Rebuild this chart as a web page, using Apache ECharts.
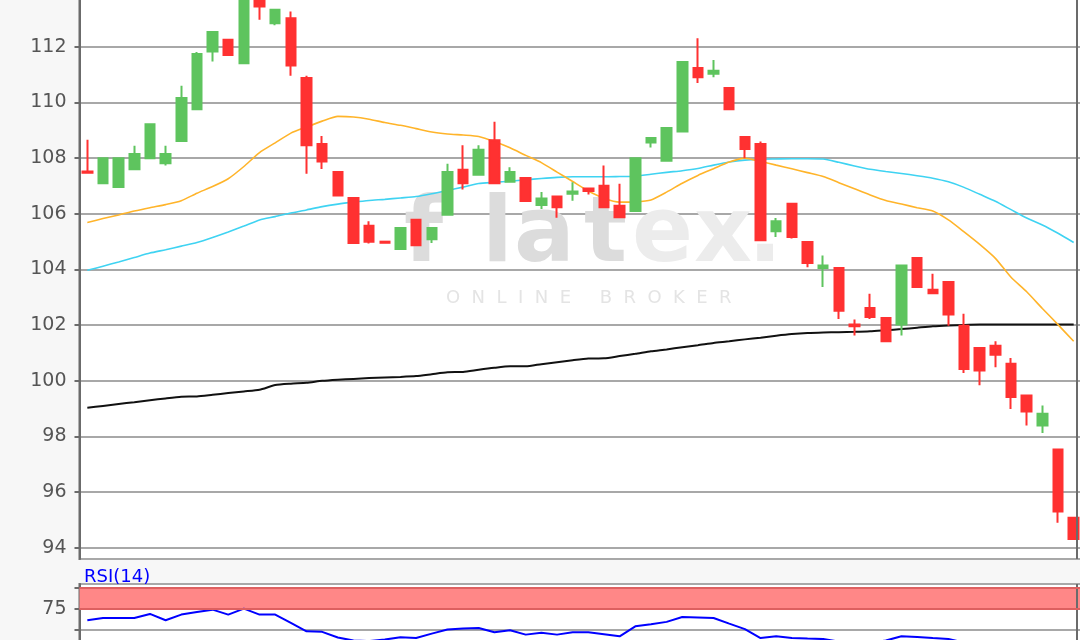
<!DOCTYPE html>
<html>
<head>
<meta charset="utf-8">
<script src="https://cdn.jsdelivr.net/npm/echarts@6/dist/echarts.min.js"></script>
<style>
html,body{margin:0;padding:0;background:#f7f7f7;}
#c{width:1080px;height:640px;}
</style>
</head>
<body>
<div id="c"></div>
<script>
const categories = [1,2,3,4,5,6,7,8,9,10,11,12,13,14,15,16,17,18,19,20,21,22,23,24,25,26,27,28,29,30,31,32,33,34,35,36,37,38,39,40,41,42,43,44,45,46,47,48,49,50,51,52,53,54,55,56,57,58,59,60,61,62,63,64];

const openP = [107.52,107.1,106.96,107.6,108.0,107.82,108.62,109.76,111.83,112.25,111.41,113.95,112.85,113.03,110.88,108.51,107.5,106.57,105.57,105.0,104.74,105.79,105.09,105.97,107.58,107.4,108.64,107.15,107.29,106.32,106.62,106.72,106.91,107.01,106.29,106.1,108.56,107.91,108.96,111.24,111.03,110.52,108.76,108.51,105.37,106.36,104.99,104.05,104.05,102.02,102.62,102.26,102.02,104.41,103.27,103.55,101.98,101.18,101.26,100.61,99.47,98.4,97.53,95.08];
const closeP = [107.48,108.0,108.0,108.15,109.22,108.15,110.16,111.74,112.53,111.71,114.1,113.45,113.33,111.33,108.46,107.88,106.66,104.95,105.0,104.96,105.49,104.87,105.49,107.5,107.1,108.3,107.1,107.5,106.46,106.55,106.24,106.8,106.82,106.24,105.88,108.0,108.72,109.08,111.45,110.91,111.14,109.76,108.33,105.05,105.73,105.17,104.23,104.14,102.52,101.96,102.29,101.42,104.14,103.37,103.15,102.38,100.43,100.37,100.94,99.42,98.9,98.82,95.31,94.32];
const lowP = [107.48,107.1,106.96,107.6,108.0,107.74,108.62,109.76,111.47,111.71,111.41,112.97,112.77,110.96,107.44,107.61,106.66,104.95,104.93,104.96,104.74,104.87,104.95,105.97,106.87,107.4,107.1,107.15,106.46,106.17,105.86,106.47,106.69,106.24,105.88,106.1,108.38,107.91,108.96,110.7,110.91,109.76,108.0,105.05,105.17,105.11,104.08,103.37,102.22,101.63,102.22,101.42,101.63,103.37,103.15,101.98,100.28,99.84,100.49,98.99,98.4,98.13,94.9,94.32];
const highP = [108.66,108.0,108.0,108.45,109.22,108.45,110.6,111.81,112.53,112.25,114.5,114.2,113.33,113.27,110.96,108.8,107.5,106.57,105.73,105.0,105.49,105.79,105.49,107.8,108.46,108.46,109.31,107.67,107.29,106.78,106.62,107.13,106.91,107.74,107.08,108.0,108.72,109.08,111.45,112.31,111.53,110.52,108.8,108.6,105.85,106.36,104.99,104.5,104.05,102.2,103.13,102.26,104.14,104.41,103.85,103.55,102.41,101.18,101.42,100.82,99.47,99.11,97.53,95.08];

const maShort = [105.69,105.83,105.96,106.1,106.22,106.33,106.47,106.74,106.98,107.26,107.7,108.2,108.55,108.9,109.12,109.33,109.5,109.48,109.4,109.28,109.18,109.06,108.94,108.87,108.83,108.78,108.6,108.37,108.1,107.84,107.5,107.16,106.82,106.56,106.42,106.43,106.5,106.78,107.1,107.38,107.62,107.86,108.0,107.88,107.75,107.62,107.48,107.34,107.12,106.9,106.68,106.48,106.35,106.22,106.1,105.78,105.35,104.9,104.4,103.72,103.2,102.6,102.02,101.42];
const maMid = [103.97,104.12,104.27,104.43,104.59,104.71,104.84,104.97,105.15,105.35,105.56,105.78,105.9,106.03,106.14,106.26,106.35,106.42,106.48,106.52,106.57,106.62,106.72,106.84,106.96,107.09,107.13,107.17,107.22,107.27,107.31,107.33,107.33,107.33,107.34,107.35,107.42,107.49,107.55,107.63,107.75,107.86,107.93,107.96,107.97,107.98,107.98,107.97,107.85,107.72,107.6,107.52,107.45,107.37,107.28,107.15,106.95,106.7,106.45,106.15,105.85,105.6,105.3,104.97];
const maLong = [99.03,99.1,99.17,99.23,99.3,99.37,99.43,99.44,99.5,99.56,99.62,99.68,99.85,99.9,99.93,100.0,100.04,100.07,100.1,100.12,100.14,100.17,100.24,100.31,100.32,100.4,100.47,100.52,100.52,100.6,100.67,100.74,100.8,100.81,100.89,100.97,101.06,101.13,101.21,101.28,101.36,101.42,101.49,101.55,101.62,101.68,101.72,101.74,101.75,101.76,101.78,101.82,101.86,101.91,101.96,101.99,102.01,102.02,102.02,102.02,102.02,102.02,102.02,102.02];

const rsi = [61.7,64.5,64.5,64.5,69.3,61.7,68.5,71.7,74.4,68.5,75.6,68.5,68.5,58.6,48.6,47.9,41.1,37.5,36.9,38.7,41.4,40.5,45.8,50.6,51.8,52.6,47.4,49.8,44.6,46.7,44.6,47.4,47.4,45.0,42.6,54.5,57.1,59.8,65.7,65.1,64.5,57.7,51.2,40.5,42.6,40.7,39.9,39.3,36.3,35.1,35.1,37.5,42.6,41.7,40.5,39.5,35.0,32.7,31.5,29.0,26.8,28.0,21.0,17.5];

const priceTicks = [94,96,98,100,102,104,106,108,110,112,114];
const rsiLabels = [25,75];
const rsiBand = [75,100];

const candles = openP.map((o, i) => [o, closeP[i], lowP[i], highP[i]]);

const chart = echarts.init(document.getElementById('c'), null, {renderer: 'canvas'});
const FONT = 'DejaVu Sans';
const wmFlat = '#dcdcdc', wmEx = '#ececec';
const wm = (t, x, y, c) => ({type: 'text', z: 1, silent: true, left: x, top: y,
  style: {text: t, fill: c, font: 'bold 90px "DejaVu Sans"'}});

chart.setOption({
  animation: false,
  backgroundColor: '#f7f7f7',
  title: {text: 'RSI(14)', left: 79, top: 563,
    textStyle: {color: '#0000ff', fontSize: 18, fontWeight: 'normal', fontFamily: FONT}},
  graphic: [
    wm('f', 404, 193, wmFlat), wm('l', 482, 193, wmFlat), wm('a', 514, 193, wmFlat), wm('t', 584, 193, wmFlat),
    wm('e', 632, 193, wmEx), wm('x', 694, 193, wmEx), wm('.', 748, 193, wmEx),
    {type: 'text', z: 1, silent: true, left: 446, top: 289,
      style: {text: 'O  N  L  I  N  E     B  R  O  K  E  R', fill: '#e4e4e4', font: '18px "DejaVu Sans"'}},
    {type: 'line', z: 5, silent: true, shape: {x1: 1077, y1: 0, x2: 1077, y2: 559},
      style: {stroke: '#6b6b6b', lineWidth: 2}},
    {type: 'line', z: 5, silent: true, shape: {x1: 1077, y1: 584, x2: 1077, y2: 640},
      style: {stroke: '#6b6b6b', lineWidth: 2}}
  ],
  grid: [
    {left: 79.5, right: -1.5, top: -20, bottom: 81, outerBoundsMode: 'none', containLabel: false,
      show: true, backgroundColor: '#ffffff', borderColor: '#6b6b6b', borderWidth: 2},
    {left: 79.5, right: -1.5, top: 584, bottom: -32, outerBoundsMode: 'none', containLabel: false,
      show: true, backgroundColor: '#ffffff', borderColor: '#6b6b6b', borderWidth: 2}
  ],
  xAxis: [
    {type: 'category', data: categories, gridIndex: 0, boundaryGap: true,
      axisLine: {show: false}, axisTick: {show: false}, axisLabel: {show: false}, splitLine: {show: false}},
    {type: 'category', data: categories, gridIndex: 1, boundaryGap: true,
      axisLine: {show: false}, axisTick: {show: false}, axisLabel: {show: false}, splitLine: {show: false}}
  ],
  yAxis: [
    {type: 'value', gridIndex: 0, min: 93.6, max: 114.4, splitNumber: 10, scale: true,
      axisLine: {show: true, lineStyle: {color: '#6b6b6b', width: 2}},
      axisTick: {show: true, length: 5, lineStyle: {color: '#6b6b6b', width: 2}},
      axisLabel: {show: true, color: '#555', fontSize: 19, fontFamily: FONT, margin: 13, showMinLabel: false, showMaxLabel: false,
        formatter: v => priceTicks.indexOf(Math.round(v * 100) / 100) >= 0 ? String(v) : ''},
      splitLine: {show: true, lineStyle: {color: '#a8a8a8', width: 2}}},
    {type: 'value', gridIndex: 1, min: 0, max: 105, interval: 25,
      axisLine: {show: true, lineStyle: {color: '#6b6b6b', width: 2}},
      axisTick: {show: true, length: 5, lineStyle: {color: '#6b6b6b', width: 2}},
      axisLabel: {show: true, color: '#555', fontSize: 19, fontFamily: FONT, margin: 13, showMaxLabel: false,
        formatter: v => rsiLabels.indexOf(v) >= 0 ? String(v) : ''},
      splitLine: {show: true, lineStyle: {color: '#a8a8a8', width: 2}}}
  ],
  series: [
    {type: 'line', name: 'MA200', xAxisIndex: 0, yAxisIndex: 0, data: maLong, showSymbol: false, smooth: 0.2,
      lineStyle: {color: '#111111', width: 2}, z: 3},
    {type: 'line', name: 'MA50', xAxisIndex: 0, yAxisIndex: 0, data: maMid, showSymbol: false, smooth: 0.2,
      lineStyle: {color: '#3fd3f2', width: 1.6}, z: 3},
    {type: 'line', name: 'MA20', xAxisIndex: 0, yAxisIndex: 0, data: maShort, showSymbol: false, smooth: 0.2,
      lineStyle: {color: '#ffb42a', width: 1.6}, z: 3},
    {type: 'candlestick', xAxisIndex: 0, yAxisIndex: 0, data: candles, barWidth: 10, z: 4,
      itemStyle: {color: '#5ec45e', color0: '#ff3131', borderColor: '#5ec45e', borderColor0: '#ff3131', borderWidth: 2}},
    {type: 'line', name: 'RSI', xAxisIndex: 1, yAxisIndex: 1, data: rsi, showSymbol: false,
      lineStyle: {color: '#0000ff', width: 2}, z: 4,
      markArea: {silent: true, itemStyle: {color: '#ff8787', opacity: 1},
        data: [[{yAxis: rsiBand[0]}, {yAxis: rsiBand[1]}]]},
      markLine: {silent: true, symbol: 'none', label: {show: false},
        lineStyle: {color: '#dd6060', width: 2, type: 'solid'},
        data: [{yAxis: rsiBand[0]}, {yAxis: rsiBand[1]}]}}
  ]
});
</script>
</body>
</html>
